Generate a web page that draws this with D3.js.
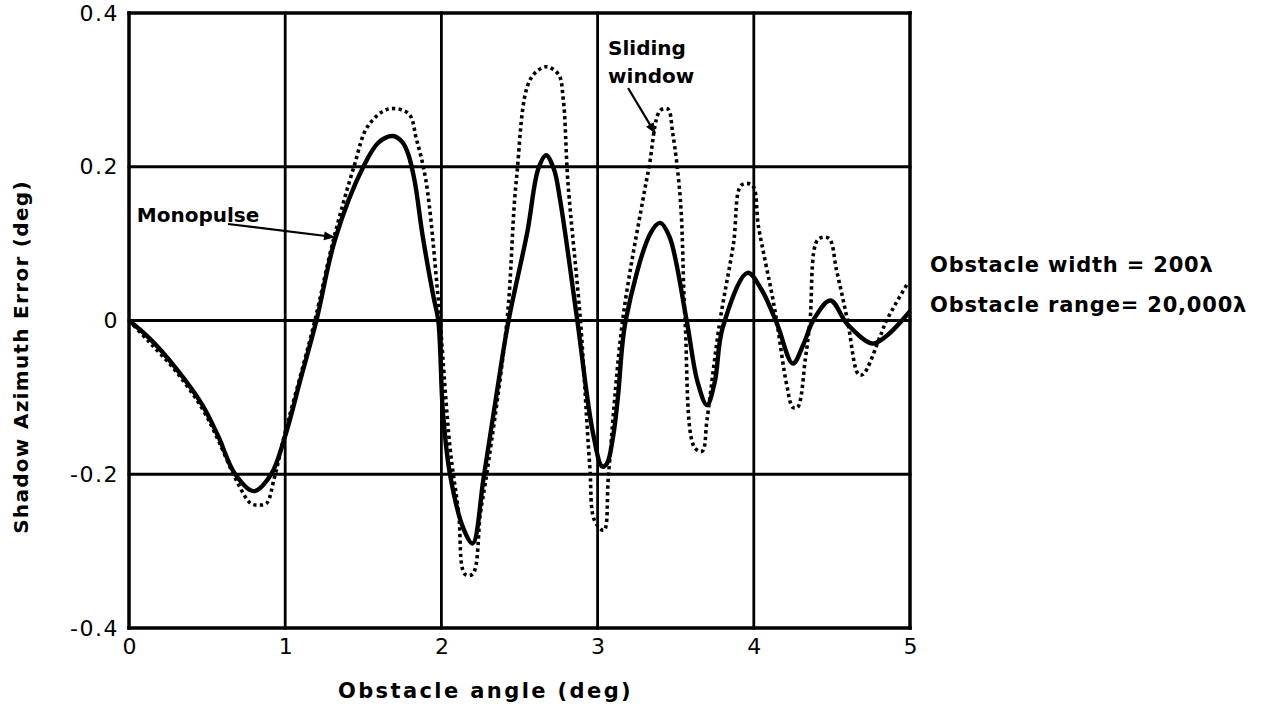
<!DOCTYPE html>
<html><head><meta charset="utf-8">
<script src="https://cdn.jsdelivr.net/npm/d3@7"></script>
<style>
html,body{margin:0;padding:0;background:#fff;}
svg{display:block;}
text{font-family:"DejaVu Sans",sans-serif;fill:#000;}
</style></head>
<body>
<svg id="chart" width="1275" height="715"></svg>
<script>
// ---- data ----
const xTicks = [0, 1, 2, 3, 4, 5];
const yTicks = [-0.4, -0.2, 0, 0.2, 0.4];
const yTickLabels = ["-0.4", "-0.2", "0", "0.2", "0.4"];

// Monopulse (solid)
const monoX = [0, 0.13, 0.30, 0.47, 0.57, 0.68, 0.80, 0.91, 1.0, 1.1, 1.2, 1.32, 1.5, 1.6, 1.69, 1.75, 1.79, 1.83, 1.88, 1.95, 1.98, 2.01, 2.055, 2.14, 2.20, 2.27, 2.35, 2.43, 2.55, 2.62, 2.67, 2.72, 2.76, 2.87, 2.97, 3.03, 3.06, 3.10, 3.13, 3.18, 3.34, 3.40, 3.46, 3.57, 3.64, 3.70, 3.75, 3.80, 3.96, 4.05, 4.15, 4.25, 4.32, 4.38, 4.49, 4.60, 4.76, 4.85, 5.0];
const monoY = [0, -0.023, -0.062, -0.11, -0.15, -0.2, -0.222, -0.2, -0.15, -0.075, 0, 0.106, 0.2, 0.232, 0.24, 0.232, 0.215, 0.18, 0.11, 0.03, 0, -0.12, -0.2, -0.27, -0.29, -0.205, -0.1, 0, 0.115, 0.197, 0.215, 0.197, 0.157, 0, -0.146, -0.19, -0.186, -0.15, -0.1, 0, 0.114, 0.127, 0.109, 0, -0.08, -0.11, -0.08, -0.01, 0.062, 0.04, -0.005, -0.056, -0.03, 0, 0.026, -0.005, -0.03, -0.02, 0.012];

// Sliding window (dotted)
const slideX = [0, 0.13, 0.30, 0.47, 0.57, 0.68, 0.78, 0.83, 0.88, 0.93, 1.0, 1.1, 1.19, 1.31, 1.44, 1.53, 1.66, 1.79, 1.84, 1.90, 1.98, 2.055, 2.11, 2.15, 2.20, 2.25, 2.29, 2.42, 2.48, 2.57, 2.67, 2.75, 2.78, 2.81, 2.89, 2.95, 2.98, 3.04, 3.07, 3.16, 3.29, 3.33, 3.40, 3.45, 3.48, 3.53, 3.56, 3.62, 3.67, 3.70, 3.78, 3.87, 3.92, 3.99, 4.03, 4.12, 4.15, 4.21, 4.25, 4.28, 4.33, 4.36, 4.41, 4.48, 4.53, 4.60, 4.67, 4.70, 4.81, 4.85, 4.99];
const slideY = [0, -0.028, -0.066, -0.115, -0.155, -0.205, -0.238, -0.24, -0.238, -0.205, -0.145, -0.07, 0, 0.106, 0.2, 0.253, 0.275, 0.269, 0.236, 0.183, 0.027, -0.165, -0.25, -0.33, -0.33, -0.25, -0.2, 0, 0.183, 0.314, 0.33, 0.32, 0.288, 0.18, 0, -0.19, -0.26, -0.273, -0.2, 0, 0.157, 0.2, 0.273, 0.275, 0.245, 0.157, 0, -0.165, -0.17, -0.13, -0.005, 0.1, 0.176, 0.176, 0.122, 0.03, -0.005, -0.083, -0.113, -0.113, -0.05, 0, 0.105, 0.107, 0.065, 0, -0.07, -0.07, -0.02, 0, 0.05];

// ---- chart ----
const svg = d3.select("#chart");
svg.append("rect").attr("width",1275).attr("height",715).attr("fill","#fff");

const x = d3.scaleLinear().domain([0,5]).range([129,910]);
const y = d3.scaleLinear().domain([-0.4,0.4]).range([628,13]);

// grid
const g = svg.append("g");
g.selectAll("line.v").data(xTicks).join("line")
  .attr("x1",d=>x(d)).attr("x2",d=>x(d)).attr("y1",y(-0.4)).attr("y2",y(0.4))
  .attr("stroke","#000").attr("stroke-width",d=>(d===0||d===5)?3.5:2.8)
  .attr("stroke-linecap","square");
g.selectAll("line.h").data(yTicks).join("line")
  .attr("y1",d=>y(d)).attr("y2",d=>y(d)).attr("x1",x(0)).attr("x2",x(5))
  .attr("stroke","#000").attr("stroke-width",d=>(Math.abs(d)===0.4)?3.5:2.8)
  .attr("stroke-linecap","square");

// axes labels via d3 axes
const xAxis = svg.append("g").attr("transform",`translate(0,${y(-0.4)})`)
  .call(d3.axisBottom(x).tickValues(xTicks).tickSize(0).tickPadding(10).tickFormat(d3.format("d")));
xAxis.select(".domain").remove();
xAxis.selectAll("text").attr("font-size",22).attr("font-family","DejaVu Sans").attr("fill","#000");

const yAxis = svg.append("g").attr("transform",`translate(${x(0)},0)`)
  .call(d3.axisLeft(y).tickValues(yTicks).tickSize(0).tickPadding(10).tickFormat((d,i)=>yTickLabels[i]));
yAxis.select(".domain").remove();
yAxis.selectAll("text").attr("font-size",22).attr("font-family","DejaVu Sans").attr("fill","#000").attr("letter-spacing",1.5);

// curves
const monoData = monoX.map((v,i)=>[v,monoY[i]]);
const slideData = slideX.map((v,i)=>[v,slideY[i]]);
const line = d3.line().x(d=>x(d[0])).y(d=>y(d[1])).curve(d3.curveCatmullRom.alpha(0.5));

svg.append("path").datum(slideData).attr("d",line)
  .attr("fill","none").attr("stroke","#000").attr("stroke-width",3.6)
  .attr("stroke-dasharray","3.3,3.3");
svg.append("path").datum(monoData).attr("d",line)
  .attr("fill","none").attr("stroke","#000").attr("stroke-width",4.4)
  .attr("stroke-linejoin","round");

// arrow marker
svg.append("defs").append("marker").attr("id","arr")
  .attr("viewBox","0 0 10 10").attr("refX",9).attr("refY",5)
  .attr("markerWidth",7).attr("markerHeight",5).attr("markerUnits","strokeWidth")
  .attr("orient","auto")
  .append("path").attr("d","M0,1 L10,5 L0,9 Z").attr("fill","#000");

// annotations
svg.append("text").attr("x",x(0.05)).attr("y",y(0.128))
  .attr("font-size",20).attr("font-weight","bold").text("Monopulse");
svg.append("line").attr("x1",x(0.634)).attr("y1",y(0.1255)).attr("x2",x(1.312)).attr("y2",y(0.1086))
  .attr("stroke","#000").attr("stroke-width",2.2).attr("marker-end","url(#arr)");

svg.append("text").attr("x",x(3.067)).attr("y",y(0.345))
  .attr("font-size",20).attr("font-weight","bold").text("Sliding");
svg.append("text").attr("x",x(3.067)).attr("y",y(0.309))
  .attr("font-size",20).attr("font-weight","bold").text("window");
svg.append("line").attr("x1",x(3.195)).attr("y1",y(0.3024)).attr("x2",x(3.367)).attr("y2",y(0.244))
  .attr("stroke","#000").attr("stroke-width",2.2).attr("marker-end","url(#arr)");

// side note
svg.append("text").attr("x",x(5)+20).attr("y",272)
  .attr("font-size",21).attr("font-weight","bold").attr("letter-spacing",0.8).text("Obstacle width = 200λ");
svg.append("text").attr("x",x(5)+20).attr("y",312)
  .attr("font-size",21).attr("font-weight","bold").attr("letter-spacing",0.8).text("Obstacle range= 20,000λ");

// axis titles
svg.append("text").attr("x",(x(0)+x(5))/2 - 34).attr("y",698).attr("text-anchor","middle")
  .attr("font-size",21).attr("font-weight","bold").attr("letter-spacing",2.4).text("Obstacle angle (deg)");
svg.append("text").attr("transform",`translate(28,357) rotate(-90)`)
  .attr("text-anchor","middle").attr("font-size",20).attr("font-weight","bold").attr("letter-spacing",1.3)
  .text("Shadow Azimuth Error (deg)");
</script>
</body></html>
